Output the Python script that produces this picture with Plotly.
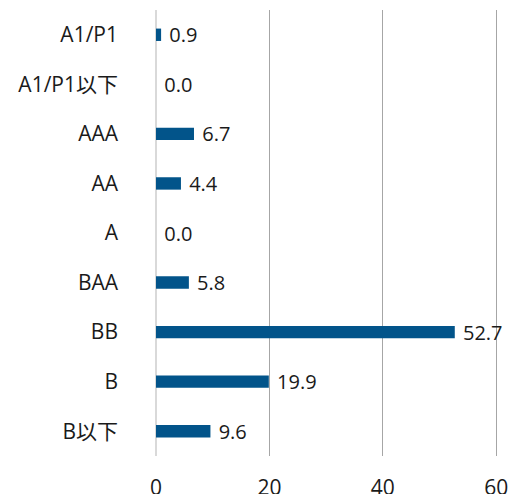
import plotly.graph_objects as go

categories = ["A1/P1", "A1/P1以下", "AAA", "AA", "A", "BAA", "BB", "B", "B以下"]
values = [0.9, 0.0, 6.7, 4.4, 0.0, 5.8, 52.7, 19.9, 9.6]
x_ticks = [0, 20, 40, 60]

FONT = "Open Sans, Noto Sans CJK JP"

fig = go.Figure(go.Bar(
    y=categories,
    x=values,
    orientation="h",
    marker=dict(color="#02548A", line=dict(width=0)),
    width=0.25,
    text=["\u00a0" + f"{v:.1f}" for v in values],
    textposition="outside",
    constraintext="none",
    textfont=dict(size=20, color="#1a1a1a", family=FONT),
    cliponaxis=False,
    hoverinfo="skip",
))

fig.update_layout(
    width=508, height=494,
    margin=dict(l=156, r=9, t=10, b=38),
    plot_bgcolor="white", paper_bgcolor="white",
    font=dict(family=FONT, size=21, color="#1a1a1a"),
    showlegend=False,
    uniformtext=dict(mode=False),
    xaxis=dict(
        range=[0, 60.5], tickvals=x_ticks, showgrid=True, gridcolor="#A6A6A6", gridwidth=1,
        zeroline=True, zerolinecolor="#D9D9D9", zerolinewidth=2,
        showline=False, ticks="", ticklabelstandoff=17, automargin=False,
        ticklabeloverflow="allow", tickfont=dict(size=21),
    ),
    yaxis=dict(
        categoryorder="array", categoryarray=categories, autorange="reversed",
        showgrid=False, zeroline=False, showline=False, ticks="", automargin=False,
        ticklabelstandoff=37, tickfont=dict(size=21),
    ),
)

fig.write_html("out.html", config={"displayModeBar": False},
               post_script="document.body.style.margin='0';document.body.style.padding='0';")
